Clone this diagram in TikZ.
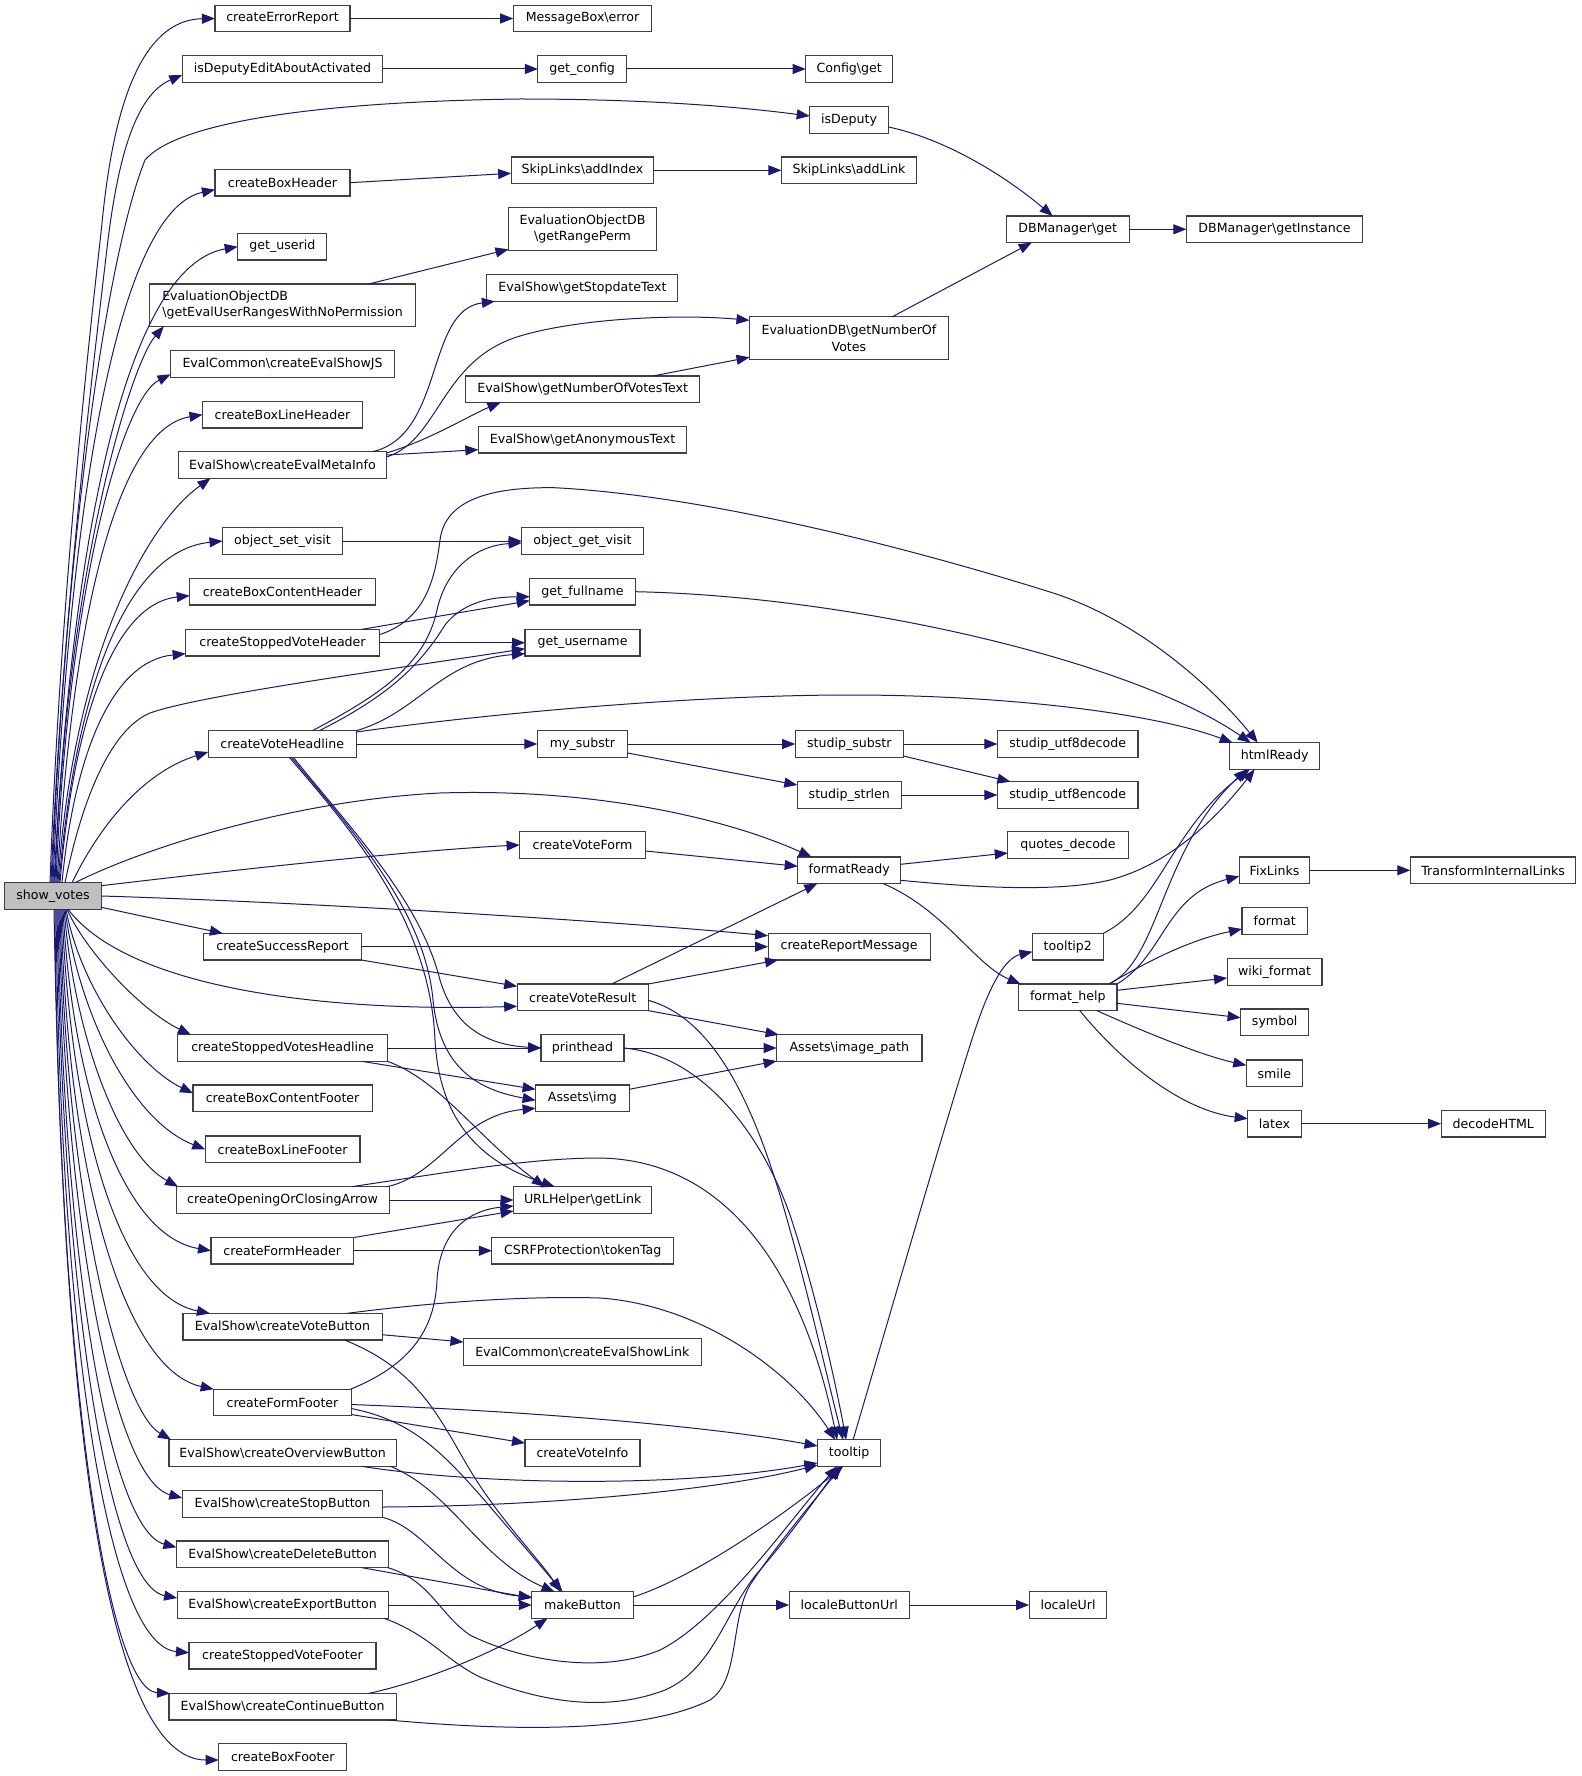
\documentclass[tikz,border=0pt]{standalone}
\usepackage{fontspec}
\setmainfont{DejaVu Sans}
\usetikzlibrary{arrows.meta}
\definecolor{edgec}{RGB}{25,25,112}
\definecolor{svfill}{RGB}{191,191,191}
\definecolor{boxc}{RGB}{64,64,64}
\tikzset{
  box/.style={draw=boxc, line width=1.1pt, fill=white, inner sep=0pt, outer sep=0pt,
    minimum height=26.6pt, font=\fontsize{12.6pt}{16.5pt}\selectfont, text=black},
  edge/.style={draw=edgec, line width=1pt, -{Triangle[length=13pt,width=10pt]}}
}
\begin{document}
\begin{tikzpicture}[x=1pt,y=-1pt]
\fill[white] (0,0) rectangle (1581,1776);
\useasboundingbox (0,0) rectangle (1581,1776);
% nodes
\node[box, minimum width=96.7pt, fill=svfill] (sv) at (53,896) {show\_votes};
\node[box, minimum width=135pt] (cer) at (282.5,18.5) {createErrorReport};
\node[box, minimum width=138.6pt] (mbe) at (582.5,18.5) {MessageBox\textbackslash error};
\node[box, minimum width=200.5pt] (idea) at (282.5,69) {isDeputyEditAboutActivated};
\node[box, minimum width=88.6pt] (gc) at (582.2,69) {get\_config};
\node[box, minimum width=87pt] (cg) at (849.2,69) {Config\textbackslash get};
\node[box, minimum width=78.8pt] (isd) at (849.1,120) {isDeputy};
\node[box, minimum width=135pt] (cbh) at (282.5,182.7) {createBoxHeader};
\node[box, minimum width=142.7pt] (sai) at (582.5,170.3) {SkipLinks\textbackslash addIndex};
\node[box, minimum width=135.3pt] (sal) at (849,170.3) {SkipLinks\textbackslash addLink};
\node[box, minimum width=148pt, minimum height=42.6pt, align=center] (grp) at (582.5,229) {EvaluationObjectDB\\\textbackslash getRangePerm};
\node[box, minimum width=123.3pt] (dbg) at (1067.7,229.3) {DBManager\textbackslash get};
\node[box, minimum width=176.3pt] (dbgi) at (1274.5,229.3) {DBManager\textbackslash getInstance};
\node[box, minimum width=89.2pt] (gu) at (282.3,246.7) {get\_userid};
\node[box, minimum width=265.4pt, minimum height=42.3pt, align=left] (geur) at (282.5,305.2) {EvaluationObjectDB\\\textbackslash getEvalUserRangesWithNoPermission};
\node[box, minimum width=191pt] (gst) at (582.4,288) {EvalShow\textbackslash getStopdateText};
\node[box, minimum width=198.8pt, minimum height=42.7pt, align=center] (gnv) at (848.9,338.3) {EvaluationDB\textbackslash getNumberOf\\Votes};
\node[box, minimum width=224pt] (cesj) at (282.5,364) {EvalCommon\textbackslash createEvalShowJS};
\node[box, minimum width=234.4pt] (gnvt) at (582.7,389.3) {EvalShow\textbackslash getNumberOfVotesText};
\node[box, minimum width=160pt] (cblh) at (282.5,414.7) {createBoxLineHeader};
\node[box, minimum width=208.3pt] (gat) at (582.5,439.7) {EvalShow\textbackslash getAnonymousText};
\node[box, minimum width=208pt] (cemi) at (282.5,465) {EvalShow\textbackslash createEvalMetaInfo};
\node[box, minimum width=120pt] (osv) at (282.5,541) {object\_set\_visit};
\node[box, minimum width=121.7pt] (ogv) at (582.5,541) {object\_get\_visit};
\node[box, minimum width=185.6pt] (cbch) at (282.5,591.7) {createBoxContentHeader};
\node[box, minimum width=105.5pt] (gfn) at (582.5,591.7) {get\_fullname};
\node[box, minimum width=193.7pt] (csvh) at (282.5,642.7) {createStoppedVoteHeader};
\node[box, minimum width=115pt] (gun) at (582.5,642.7) {get\_username};
\node[box, minimum width=148pt] (cvh) at (282.3,744) {createVoteHeadline};
\node[box, minimum width=90.3pt] (mys) at (582.4,744) {my\_substr};
\node[box, minimum width=108.2pt] (sss) at (849.3,744) {studip\_substr};
\node[box, minimum width=140.6pt] (sud) at (1067.7,744) {studip\_utf8decode};
\node[box, minimum width=89.7pt] (htm) at (1274.7,756) {htmlReady};
\node[box, minimum width=104pt] (ssl) at (849.3,795) {studip\_strlen};
\node[box, minimum width=140.6pt] (sue) at (1067.7,795) {studip\_utf8encode};
\node[box, minimum width=125.8pt] (cvf) at (582.5,845) {createVoteForm};
\node[box, minimum width=120.5pt] (qd) at (1068,845) {quotes\_decode};
\node[box, minimum width=103pt] (fr) at (849.2,870.3) {formatReady};
\node[box, minimum width=70.7pt] (fl) at (1274.5,870.3) {FixLinks};
\node[box, minimum width=165.6pt] (til) at (1493.1,870.3) {TransformInternalLinks};
\node[box, minimum width=65.5pt] (fmt) at (1274.7,921) {format};
\node[box, minimum width=157.5pt] (csr) at (282.6,946.7) {createSuccessReport};
\node[box, minimum width=162pt] (crm) at (849.1,946.7) {createReportMessage};
\node[box, minimum width=70.6pt] (tt2) at (1067.8,946.7) {tooltip2};
\node[box, minimum width=94.9pt] (wf) at (1274.5,972) {wiki\_format};
\node[box, minimum width=131pt] (cvr) at (582.7,997.3) {createVoteResult};
\node[box, minimum width=98.4pt] (fh) at (1067.8,997.3) {format\_help};
\node[box, minimum width=68.3pt] (sym) at (1274.7,1022.3) {symbol};
\node[box, minimum width=209.6pt] (csvhl) at (282.6,1048) {createStoppedVotesHeadline};
\node[box, minimum width=83pt] (ph) at (582.5,1048) {printhead};
\node[box, minimum width=145.4pt] (aip) at (849.3,1048) {Assets\textbackslash image\_path};
\node[box, minimum width=56.3pt] (sm) at (1274.4,1073.3) {smile};
\node[box, minimum width=179.2pt] (cbcf) at (282.6,1098.3) {createBoxContentFooter};
\node[box, minimum width=93.6pt] (aimg) at (582.4,1098.3) {Assets\textbackslash img};
\node[box, minimum width=53.5pt] (ltx) at (1274.5,1123.7) {latex};
\node[box, minimum width=104.5pt] (dh) at (1493.3,1123.7) {decodeHTML};
\node[box, minimum width=154.8pt] (cblf) at (282.6,1149.3) {createBoxLineFooter};
\node[box, minimum width=213pt] (coca) at (282.6,1200) {createOpeningOrClosingArrow};
\node[box, minimum width=138.3pt] (ugl) at (582.7,1200) {URLHelper\textbackslash getLink};
\node[box, minimum width=142.6pt] (cfh) at (282.3,1250.7) {createFormHeader};
\node[box, minimum width=181.6pt] (csrf) at (582.7,1250.7) {CSRFProtection\textbackslash tokenTag};
\node[box, minimum width=199.1pt] (cvb) at (282.5,1326.7) {EvalShow\textbackslash createVoteButton};
\node[box, minimum width=237.7pt] (cesl) at (582.3,1352) {EvalCommon\textbackslash createEvalShowLink};
\node[box, minimum width=137.6pt] (cff) at (282.5,1402.5) {createFormFooter};
\node[box, minimum width=227.2pt] (cob) at (282.6,1453) {EvalShow\textbackslash createOverviewButton};
\node[box, minimum width=115pt] (cvi) at (582.5,1453) {createVoteInfo};
\node[box, minimum width=63.2pt] (tt) at (849.1,1453) {tooltip};
\node[box, minimum width=200.5pt] (csb) at (282.5,1504) {EvalShow\textbackslash createStopButton};
\node[box, minimum width=212.3pt] (cdb) at (282.6,1554.3) {EvalShow\textbackslash createDeleteButton};
\node[box, minimum width=211pt] (ceb) at (282.6,1605) {EvalShow\textbackslash createExportButton};
\node[box, minimum width=101.5pt] (mb) at (582.5,1605) {makeButton};
\node[box, minimum width=120.4pt] (lbu) at (849.3,1605) {localeButtonUrl};
\node[box, minimum width=77.8pt] (lu) at (1068,1605) {localeUrl};
\node[box, minimum width=187pt] (csvf) at (282.5,1655.7) {createStoppedVoteFooter};
\node[box, minimum width=227.2pt] (ccb) at (282.6,1706.7) {EvalShow\textbackslash createContinueButton};
\node[box, minimum width=128.2pt] (cbf) at (282.8,1757) {createBoxFooter};

% ---- show_votes fan upward
\draw[edge] ([xshift=-3pt]sv.north) .. controls (60,600) and (90,330) .. (101,233) .. controls (108,160) and (125,20) .. (cer.west);
\draw[edge] ([xshift=-2pt]sv.north) .. controls (62,620) and (95,350) .. (108,240) .. controls (118,160) and (135,95) .. ([yshift=-6pt]idea.west);
\draw[edge] ([xshift=-1pt]sv.north) .. controls (64,560) and (105,260) .. (145,160) .. controls (175,125) and (300,102) .. (520,99) .. controls (650,99) and (740,107) .. ([yshift=4pt]isd.west);
\draw[edge] (sv.north) .. controls (69,501) and (118,210) .. ([yshift=-7pt]cbh.west);
\draw[edge] ([xshift=1pt]sv.north) .. controls (72,533) and (127,266) .. (gu.west);
\draw[edge] ([xshift=2pt]sv.north) .. controls (66,577) and (130,365) .. ([xshift=14pt]geur.south west);
\draw[edge] ([xshift=3pt]sv.north) .. controls (67,603) and (120,400) .. ([yshift=3pt]cesj.south west);
\draw[edge] ([xshift=4pt]sv.north) .. controls (72,625) and (115,429) .. (cblh.west);
\draw[edge] ([xshift=5pt]sv.north) .. controls (73,660) and (145,525) .. ([xshift=32pt]cemi.south west);
\draw[edge] ([xshift=6pt]sv.north) .. controls (75,695) and (124,551) .. (osv.west);
\draw[edge] ([xshift=7pt]sv.north) .. controls (73,725) and (112,604) .. ([yshift=-4pt]cbch.west);
\draw[edge] ([xshift=9pt]sv.north) .. controls (74,757) and (111,661) .. ([yshift=-11pt]csvh.west);
\draw[edge] ([xshift=12pt]sv.north) .. controls (82,800) and (110,730) .. (150,713) .. controls (200,695) and (400,668) .. ([yshift=-6pt]gun.west);
\draw[edge] ([xshift=19pt]sv.north) .. controls (105,815) and (150,770) .. ([yshift=-8pt]cvh.west);
\draw[edge] ([xshift=22pt]sv.north) .. controls (150,845) and (300,800) .. (440,793) .. controls (600,788) and (730,820) .. ([xshift=14pt]fr.north west);
\draw[edge] ([yshift=-3pt]sv.north east) .. controls (250,868) and (420,850) .. (cvf.west);
\draw[edge] (sv.east) .. controls (300,902) and (600,920) .. ([yshift=11pt]crm.west);
\draw[edge] ([yshift=2pt]sv.south east) -- ([xshift=19pt]csr.north west);
\draw[edge] ([xshift=15pt]sv.south) .. controls (130,990) and (330,1012) .. ([yshift=-9pt]cvr.west);
% ---- show_votes fan downward
\draw[edge] ([xshift=14pt]sv.south) .. controls (85,950) and (140,1010) .. ([xshift=13pt]csvhl.north west);
\draw[edge] ([xshift=13pt]sv.south) .. controls (80,985) and (135,1065) .. ([yshift=5pt]cbcf.west);
\draw[edge] ([xshift=12pt]sv.south) .. controls (78,1010) and (130,1120) .. (cblf.west);
\draw[edge] ([xshift=11pt]sv.south) .. controls (75,1040) and (120,1155) .. ([xshift=2pt]coca.north west);
\draw[edge] ([xshift=10pt]sv.south) .. controls (72,1080) and (120,1235) .. (cfh.west);
\draw[edge] ([xshift=9pt]sv.south) .. controls (70,1120) and (118,1295) .. ([xshift=27pt]cvb.north west);
\draw[edge] ([xshift=8pt]sv.south) .. controls (68,1180) and (125,1370) .. (cff.north west);
\draw[edge] ([xshift=7pt]sv.south) .. controls (66,1200) and (120,1410) .. ([xshift=2pt]cob.north west);
\draw[edge] ([xshift=6pt]sv.south) .. controls (65,1230) and (115,1480) .. ([yshift=6pt]csb.west);
\draw[edge] ([xshift=5pt]sv.south) .. controls (63,1260) and (110,1530) .. ([yshift=7pt]cdb.west);
\draw[edge] ([xshift=4pt]sv.south) .. controls (62,1290) and (108,1585) .. ([yshift=7pt]ceb.west);
\draw[edge] ([xshift=3pt]sv.south) .. controls (60,1320) and (105,1645) .. ([yshift=3pt]csvf.west);
\draw[edge] ([xshift=2pt]sv.south) .. controls (58,1350) and (105,1690) .. ([xshift=1pt]ccb.north west);
\draw[edge] ([xshift=1pt]sv.south) .. controls (62,1380) and (100,1760) .. ([yshift=-3pt]cbf.west);

% ---- top region
\draw[edge] (cer.east) -- (mbe.west);
\draw[edge] (idea.east) -- (gc.west);
\draw[edge] (gc.east) -- (cg.west);
\draw[edge] ([yshift=-7pt]isd.east) .. controls (950,140) and (1010,180) .. ([xshift=-15pt]dbg.north);
\draw[edge] (cbh.east) -- ([yshift=-3pt]sai.west);
\draw[edge] (sai.east) -- (sal.west);
\draw[edge] ([xshift=86pt]geur.north) -- ([yshift=1pt]grp.south west);
\draw[edge] (dbg.east) -- (dbgi.west);
\draw[edge] ([xshift=43pt]gnv.north) -- ([xshift=-36pt]dbg.south);
\draw[edge] ([xshift=90pt]cemi.north) .. controls (445,435) and (425,310) .. ([xshift=8pt]gst.south west);
\draw[edge] ([yshift=8pt]cemi.east) .. controls (440,440) and (440,360) .. (520,336) .. controls (580,318) and (680,314) .. ([yshift=18pt]gnv.west);
\draw[edge] ([yshift=12pt]cemi.east) .. controls (430,440) and (470,415) .. ([xshift=35pt]gnvt.south west);
\draw[edge] ([yshift=10pt]cemi.east) -- ([yshift=-10pt]gat.west);
\draw[edge] ([xshift=70pt]gnvt.north) -- ([yshift=-19pt]gnv.west);
\draw[edge] (osv.east) -- (ogv.west);
% ---- middle region
\draw[edge] ([yshift=8pt]csvh.east) .. controls (425,620) and (435,580) .. (440,540) .. controls (445,500) and (490,487) .. (554,487.7) .. controls (700,495) and (900,545) .. (1050,592) .. controls (1140,620) and (1215,690) .. ([xshift=-17pt]htm.north);
\draw[edge] ([xshift=79pt]csvh.north) -- ([yshift=-9pt]gfn.west);
\draw[edge] (csvh.east) -- (gun.west);
\draw[edge] ([xshift=30pt]cvh.north) .. controls (380,695) and (425,665) .. (437,610) .. controls (447,565) and (480,545) .. ([yshift=-2pt]ogv.west);
\draw[edge] ([xshift=37pt]cvh.north) .. controls (390,695) and (420,665) .. (445,625) .. controls (465,600) and (495,597) .. ([yshift=-5pt]gfn.west);
\draw[edge] (cvh.north east) .. controls (420,712) and (440,660) .. ([yshift=-11pt]gun.west);
\draw[edge] ([yshift=12pt]cvh.east) .. controls (500,712) and (700,695) .. (850,695) .. controls (1000,695) and (1150,712) .. ([xshift=-42pt]htm.north);
\draw[edge] (cvh.east) -- (mys.west);
\draw[edge] (mys.east) -- (sss.west);
\draw[edge] (sss.east) -- (sud.west);
\draw[edge] ([yshift=-9pt]mys.east) -- ([yshift=10pt]ssl.west);
\draw[edge] ([yshift=-12pt]sss.east) -- ([xshift=13pt]sue.north west);
\draw[edge] (ssl.east) -- (sue.west);
\draw[edge] (gfn.east) .. controls (850,596) and (1130,660) .. ([xshift=-24pt]htm.north);
\draw[edge] ([yshift=-6pt]cvf.east) -- ([yshift=4pt]fr.west);
\draw[edge] ([yshift=6pt]fr.east) -- ([yshift=-8pt]qd.west);
\draw[edge] ([yshift=-10pt]fr.east) .. controls (980,888) and (1060,892) .. (1110,880) .. controls (1170,864) and (1215,820) .. ([xshift=-20pt]htm.south);
\draw[edge] ([xshift=34pt]fr.south) .. controls (945,910) and (975,965) .. ([xshift=2pt]fh.north west);
\draw[edge] (tt2.north east) .. controls (1160,905) and (1170,830) .. ([xshift=-25pt]htm.south);
\draw[edge] ([xshift=-8pt]fh.north east) .. controls (1160,960) and (1160,850) .. ([xshift=-28pt]htm.south);
\draw[edge] ([xshift=-8pt]fh.north east) .. controls (1150,960) and (1190,940) .. ([yshift=-8pt]fmt.west);
\draw[edge] (fh.north east) .. controls (1165,955) and (1165,895) .. ([yshift=-6pt]fl.west);
\draw[edge] ([yshift=7pt]fh.east) -- ([yshift=-6pt]wf.west);
\draw[edge] ([yshift=-6pt]fh.east) -- ([yshift=4.6pt]sym.west);
\draw[edge] ([xshift=29pt]fh.south) .. controls (1140,1030) and (1200,1055) .. ([yshift=8pt]sm.west);
\draw[edge] ([xshift=12pt]fh.south) .. controls (1120,1060) and (1180,1110) .. ([yshift=5pt]ltx.west);
\draw[edge] (ltx.east) -- (dh.west);
\draw[edge] (fl.east) -- (til.west);
\draw[edge] ([xshift=4pt]tt.north) .. controls (900,1280) and (955,1090) .. (975,1030) .. controls (990,985) and (1005,958) .. ([yshift=-5pt]tt2.west);
\draw[edge] (csr.east) -- (crm.west);
\draw[edge] (csr.south east) -- ([yshift=11pt]cvr.west);
\draw[edge] ([xshift=29pt]cvr.north) -- ([xshift=-32pt]fr.south);
\draw[edge] (cvr.north east) -- ([xshift=10pt]crm.south west);
\draw[edge] (cvr.south east) -- ([xshift=2pt]aip.north west);
\draw[edge] ([yshift=-3pt]cvr.east) .. controls (720,1020) and (760,1120) .. (790,1230) .. controls (810,1300) and (830,1390) .. ([xshift=-6pt]tt.north);
\draw[edge] (ph.east) -- (aip.west);
\draw[edge] (ph.east) .. controls (700,1055) and (760,1130) .. (790,1215) .. controls (815,1290) and (835,1380) .. ([xshift=-3pt]tt.north);
\draw[edge] ([yshift=9pt]aimg.east) -- ([yshift=-13pt]aip.west);
\draw[edge] (csvhl.east) -- (ph.west);
\draw[edge] ([xshift=79pt]csvhl.south) -- ([yshift=9pt]aimg.west);
\draw[edge] (csvhl.south east) .. controls (440,1080) and (480,1140) .. ([xshift=-38pt]ugl.north);
\draw[edge] ([xshift=11pt]cvh.south) .. controls (350,828) and (420,900) .. (440,980) .. controls (455,1030) and (490,1045) .. (ph.west);
\draw[edge] ([xshift=9pt]cvh.south) .. controls (350,828) and (425,910) .. (433,1000) .. controls (440,1070) and (480,1090) .. ([yshift=-2pt]aimg.west);
\draw[edge] ([xshift=7pt]cvh.south) .. controls (350,828) and (430,920) .. (435,1040) .. controls (440,1130) and (490,1165) .. ([xshift=-28pt]ugl.north);
\draw[edge] ([xshift=-2pt]coca.north east) .. controls (440,1175) and (460,1115) .. ([yshift=-10pt]aimg.west);
\draw[edge] ([xshift=69pt]coca.north) .. controls (450,1172) and (530,1158) .. (600,1158) .. controls (720,1160) and (800,1260) .. ([xshift=-12pt]tt.north);
\draw[edge] (coca.east) -- (ugl.west);
\draw[edge] ([xshift=72pt]cfh.north) -- ([yshift=-11pt]ugl.west);
\draw[edge] (cfh.east) -- (csrf.west);
% ---- bottom region
\draw[edge] ([xshift=68pt]cff.north) .. controls (410,1365) and (435,1330) .. (437,1280) .. controls (440,1230) and (470,1210) .. ([yshift=-6pt]ugl.west);
\draw[edge] ([yshift=-8pt]cvb.east) -- ([yshift=10pt]cesl.west);
\draw[edge] ([xshift=62pt]cvb.south) .. controls (420,1370) and (440,1420) .. (470,1470) .. controls (500,1520) and (540,1560) .. ([xshift=-22pt]mb.north);
\draw[edge] ([xshift=64pt]cvb.north) .. controls (450,1300) and (540,1296) .. (600,1298) .. controls (700,1305) and (790,1370) .. ([xshift=-14pt]tt.north);
\draw[edge] ([yshift=-12pt]cff.east) -- ([yshift=10pt]cvi.west);
\draw[edge] ([yshift=-2pt]cff.east) .. controls (550,1412) and (720,1428) .. ([yshift=7pt]tt.west);
\draw[edge] ([yshift=-6pt]cff.east) .. controls (410,1420) and (440,1450) .. (480,1495) .. controls (510,1530) and (540,1565) .. ([xshift=-20pt]mb.north);
\draw[edge] ([xshift=79pt]cob.south) .. controls (480,1485) and (680,1488) .. ([yshift=-10pt]tt.west);
\draw[edge] ([xshift=-6pt]cob.south east) .. controls (450,1490) and (480,1560) .. ([xshift=-28pt]mb.north);
\draw[edge] ([yshift=-3pt]csb.east) .. controls (550,1506) and (720,1490) .. ([yshift=-12pt]tt.west);
\draw[edge] (csb.south east) .. controls (430,1530) and (450,1590) .. ([yshift=8pt]mb.west);
\draw[edge] ([xshift=79pt]cdb.south) -- ([yshift=7pt]mb.west);
\draw[edge] ([xshift=-1pt]cdb.south east) .. controls (430,1580) and (440,1615) .. (470,1635) .. controls (520,1660) and (600,1675) .. (660,1650) .. controls (720,1620) and (790,1520) .. ([xshift=-12pt]tt.south);
\draw[edge] (ceb.east) -- (mb.west);
\draw[edge] ([xshift=-4pt]ceb.south east) .. controls (430,1635) and (445,1660) .. (480,1677) .. controls (530,1698) and (600,1715) .. (665,1690) .. controls (715,1668) and (725,1610) .. (760,1570) .. controls (790,1535) and (815,1500) .. ([xshift=-10pt]tt.south);
\draw[edge] ([xshift=86pt]ccb.north) .. controls (430,1680) and (500,1650) .. ([xshift=-35pt]mb.south);
\draw[edge] ([xshift=-8pt]ccb.south east) .. controls (500,1730) and (640,1735) .. (710,1700) .. controls (740,1680) and (730,1620) .. (750,1585) .. controls (780,1540) and (815,1500) .. ([xshift=-8pt]tt.south);
\draw[edge] ([yshift=8pt]mb.east) .. controls (700,1575) and (790,1510) .. ([xshift=-6pt]tt.south);
\draw[edge] (mb.east) -- (lbu.west);
\draw[edge] (lbu.east) -- (lu.west);
\end{tikzpicture}
\end{document}
